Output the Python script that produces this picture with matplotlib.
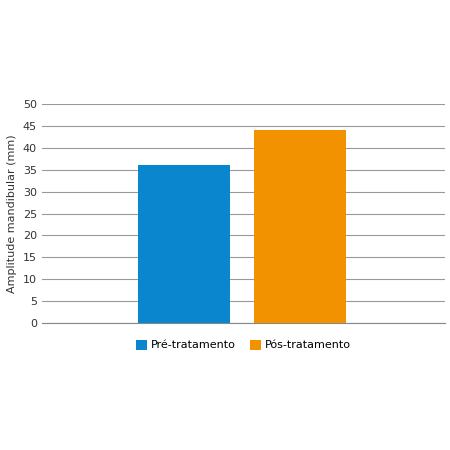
import matplotlib.pyplot as plt
import numpy as np

series = ["Pré-tratamento", "Pós-tratamento"]
values = [36, 44]
colors = ["#0a86cf", "#f39200"]
yticks = list(range(0, 55, 5))

fig = plt.figure(figsize=(4.5, 4.5), dpi=100)
ax = fig.add_axes([0.093, 0.282, 0.896, 0.487])

offsets = [-0.147, 0.14]
for name, v, c, o in zip(series, values, colors, offsets):
    ax.bar(o, v, width=0.228, color=c, label=name, zorder=3)

ax.set_xlim(-0.5, 0.5)
ax.set_ylim(0, 50)
ax.set_yticks(yticks)
ax.set_xticks([])
ax.yaxis.grid(True, color="#999999", linewidth=0.8, zorder=0)
for s in ["top", "right", "left"]:
    ax.spines[s].set_visible(False)
ax.spines["bottom"].set_color("#888888")
ax.tick_params(axis="y", length=0, labelsize=8, colors="#333333")
ax.set_ylabel("Amplitude mandibular (mm)", fontsize=8, color="#333333")

ax.legend(loc="upper center", bbox_to_anchor=(0.5, -0.03), ncol=2, frameon=False,
          fontsize=8, handlelength=1, handleheight=1, columnspacing=1.2,
          handletextpad=0.4)

fig.savefig("out.png", dpi=100)
